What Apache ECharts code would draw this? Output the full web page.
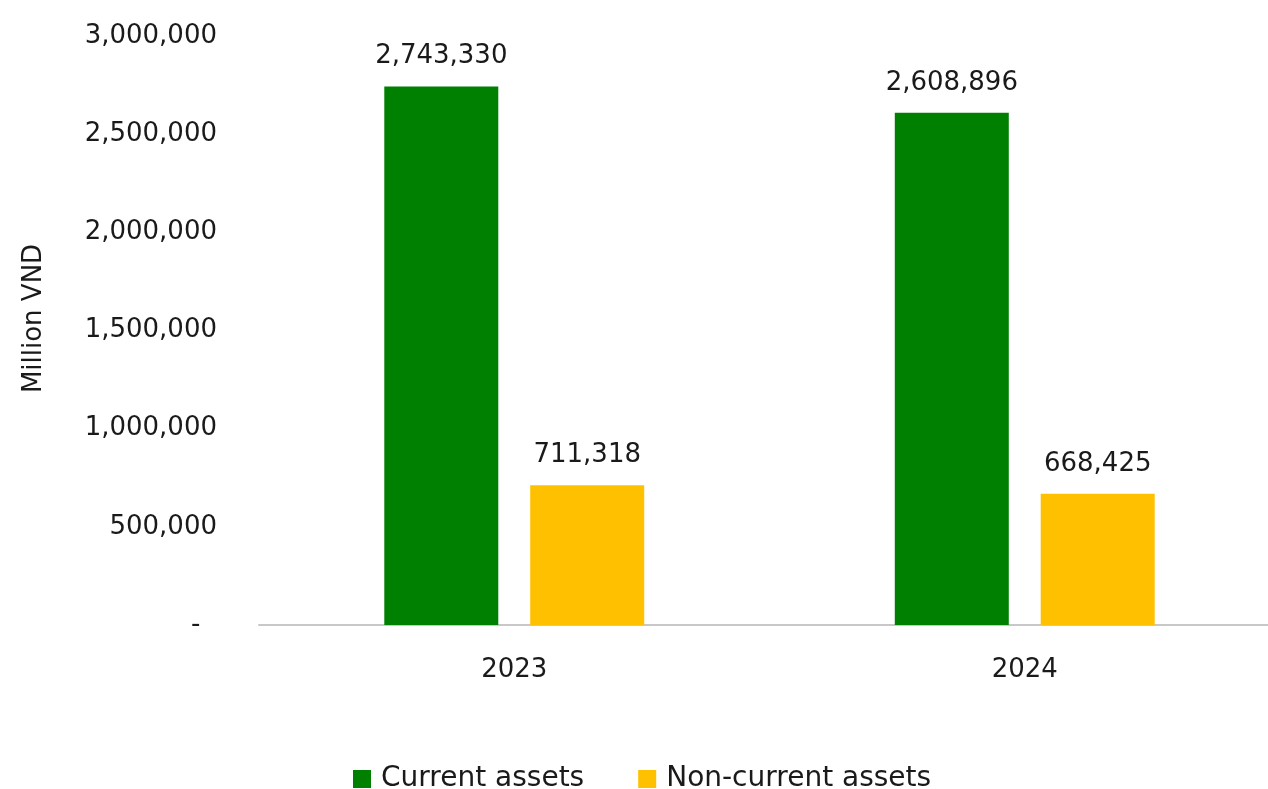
<!DOCTYPE html>
<html><head><meta charset="utf-8">
<script src="https://cdn.jsdelivr.net/npm/echarts@6/dist/echarts.min.js"></script>
<style>html,body{margin:0;padding:0;background:#fff;overflow:hidden}#c{width:1280px;height:789px}</style>
</head><body><div id="c"></div>
<script>
const categories = ['2023', '2024'];
const currentAssets = [2743330, 2608896];
const nonCurrentAssets = [711318, 668425];
const seriesNames = ['Current assets', 'Non-current assets'];
const yAxisName = 'Million VND';

const fmt = v => v === 0 ? '-  ' : Number(v).toLocaleString('en-US');
const FONT = '"DejaVu Sans", sans-serif';
const chart = echarts.init(document.getElementById('c'), null, {renderer: 'canvas'});
chart.setOption({
  animation: false,
  textStyle: {fontFamily: FONT},
  grid: {left: 259, top: 36, right: 0, bottom: 164, containLabel: false},
  legend: {
    data: seriesNames, top: 760, left: 348, itemWidth: 18, itemHeight: 18, itemGap: 54,
    icon: 'rect',
    textStyle: {fontSize: 28, color: '#1a1a1a', fontFamily: FONT, padding: [0,0,0,5]}
  },
  xAxis: {
    type: 'category', data: categories,
    axisLine: {lineStyle: {color: '#c8c8c8', width: 2}},
    axisTick: {show: false},
    axisLabel: {fontSize: 26, color: '#1a1a1a', margin: 32}
  },
  yAxis: {
    type: 'value', min: 0, max: 3000000, interval: 500000,
    name: yAxisName, nameLocation: 'middle', nameGap: 212,
    nameTextStyle: {fontSize: 26, color: '#1a1a1a', padding: [0, 0, 0, 24]},
    axisLine: {show: false}, axisTick: {show: false}, splitLine: {show: false},
    axisLabel: {fontSize: 26, color: '#1a1a1a', margin: 42, formatter: fmt}
  },
  series: [
    {name: seriesNames[0], type: 'bar', data: currentAssets, barWidth: 114, barGap: '28%',
     itemStyle: {color: '#008000'},
     label: {show: true, position: 'top', distance: 17, fontSize: 26, color: '#1a1a1a', formatter: p => fmt(p.value)}},
    {name: seriesNames[1], type: 'bar', data: nonCurrentAssets, barWidth: 114,
     itemStyle: {color: '#FFC000'},
     label: {show: true, position: 'top', distance: 17, fontSize: 26, color: '#1a1a1a', formatter: p => fmt(p.value)}}
  ]
});
</script></body></html>
